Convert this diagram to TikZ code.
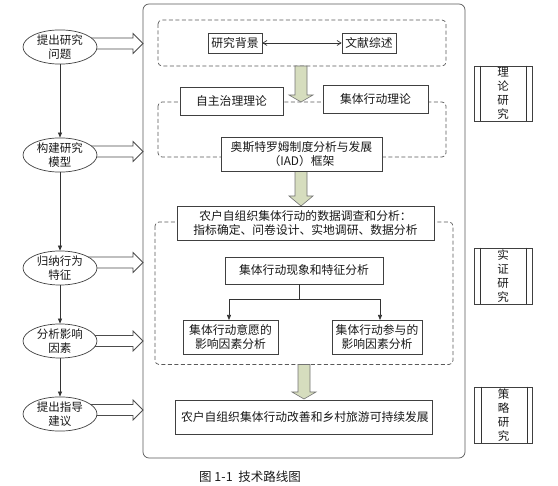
\documentclass[tikz,border=0pt]{standalone}
\usepackage{fontspec}
\setmainfont{Liberation Serif}
\newfontfamily\cjk{Noto Sans CJK SC}
\usetikzlibrary{arrows.meta,shapes.geometric}
\newcommand\hollowarr[1]{%
  \draw[harrow] (85,{#1-5.5}) -- (133,{#1-5.5}) -- (133,{#1-10}) -- (143,#1) -- (133,{#1+10}) -- (133,{#1+5.5}) -- (85,{#1+5.5}) -- cycle;}
\newcommand\greenarr[4]{%
  \draw[garrow] ({#1-6},#2) -- ({#1-6},#3) -- ({#1-12},#3) -- (#1,#4) -- ({#1+12},#3) -- ({#1+6},#3) -- ({#1+6},#2) -- cycle;}
\begin{document}
\begin{tikzpicture}[x=1pt,y=-1pt,
  every node/.style={font=\cjk\fontsize{11.8}{14}\selectfont, text=black!90},
  box/.style={draw=black!75, line width=0.7pt, fill=white, inner sep=0pt, align=center},
  dbox/.style={draw=black!65, line width=0.7pt, dash pattern=on 4pt off 2.5pt, rounded corners=4pt},
  oval/.style={ellipse, draw=black!75, line width=0.7pt, fill=white, minimum width=74pt, minimum height=32pt, inner sep=0pt, align=center, font=\cjk\fontsize{11.5}{13.5}\selectfont},
  garrow/.style={fill={rgb,255:red,214;green,221;blue,190}, draw=black!55, line width=0.6pt},
  harrow/.style={fill=white, draw=black!70, line width=0.8pt},
  side/.style={draw=black!75, line width=0.7pt, inner sep=0pt, minimum width=58pt, align=center, font=\cjk\fontsize{11.5}{13.8}\selectfont},
  link/.style={draw=black!80, line width=0.7pt},
]
\useasboundingbox (0,0) rectangle (558,486);

% main frame
\draw[draw=black!65, line width=0.7pt, rounded corners=6pt] (143,4) rectangle (465,458);

% left hollow arrows
\hollowarr{43.5}
\hollowarr{151.5}
\hollowarr{262.5}
\hollowarr{341}
\hollowarr{410}

% left ellipses
\node[oval] (e1) at (60,47) {提出研究\\问题};
\node[oval] (e2) at (60,155) {构建研究\\模型};
\node[oval] (e3) at (60,268) {归纳行为\\特征};
\node[oval] (e4) at (60,341) {分析影响\\因素};
\node[oval, minimum height=30pt] (e5) at (60,414) {提出指导\\建议};
\foreach \a/\b in {e1/e2,e2/e3,e3/e4,e4/e5}
  \draw[link,-{Triangle[length=5pt,width=4pt]}] (\a.south) -- (\b.north);

% dashed groups
\draw[dbox] (158,20) rectangle (446,66);
\draw[dbox] (158,102) rectangle (446,157);
\draw[dbox] (155,222) rectangle (453,364.5);

% green arrows
\greenarr{301}{66}{95}{102}
\greenarr{301}{171}{196}{206}
\greenarr{304}{364.5}{392}{399}

% boxes
\node[box, minimum width=54pt, minimum height=20pt] (bg) at (235,43) {研究背景};
\node[box, minimum width=54pt, minimum height=20pt] (lit) at (369,43) {文献综述};
\draw[link, {Straight Barb[length=4pt,width=5pt]}-{Straight Barb[length=4pt,width=5pt]}] (bg) -- (lit);

\node[box, minimum width=103pt, minimum height=28pt] (zz) at (231.5,101) {自主治理理论};
\node[box, minimum width=105pt, minimum height=28pt] (jt) at (375.5,99.5) {集体行动理论};
\node[box, minimum width=161pt, minimum height=34pt] (iad) at (301.5,154) {奥斯特罗姆制度分析与发展\\（IAD）框架};

\node[box, minimum width=257pt, minimum height=34pt] (sv) at (305.5,223) {农户自组织集体行动的数据调查和分析：\\指标确定、问卷设计、实地调研、数据分析};
\node[box, minimum width=158pt, minimum height=27pt] (ph) at (304,270.5) {集体行动现象和特征分析};
\node[box, minimum width=95pt, minimum height=34pt] (wi) at (230.5,337) {集体行动意愿的\\影响因素分析};
\node[box, minimum width=90pt, minimum height=34pt] (pa) at (377,337) {集体行动参与的\\影响因素分析};
\coordinate (j) at (299,299);
\draw[link] (j |- ph.south) -- (j);
\draw[link,-{Triangle[length=5pt,width=4pt]}] (j) -| (229,320) coordinate (wt);
\draw[link,-{Triangle[length=5pt,width=4pt]}] (j) -| (380,320) coordinate (pt);

\node[box, minimum width=257pt, minimum height=34pt, text width=245pt, align=left] (fi) at (303.5,417) {农户自组织集体行动改善和乡村旅游可持续发展};

% right side labels
\node[side, minimum height=55pt] (r1) at (503,93.5) {理\\论\\研\\究};
\node[side, minimum height=56pt] (r2) at (503,276) {实\\证\\研\\究};
\node[side, minimum height=56pt] (r3) at (503.5,415) {策\\略\\研\\究};
\foreach \r in {r1,r2,r3}{
  \draw[link] ([xshift=7pt]\r.north west) -- ([xshift=7pt]\r.south west);
  \draw[link] ([xshift=-6pt]\r.north east) -- ([xshift=-6pt]\r.south east);
}

% caption
\node[font=\cjk\fontsize{12.5}{14}\selectfont] (cap) at (250,477) {图 1-1\ \ 技术路线图};
\end{tikzpicture}
\end{document}
